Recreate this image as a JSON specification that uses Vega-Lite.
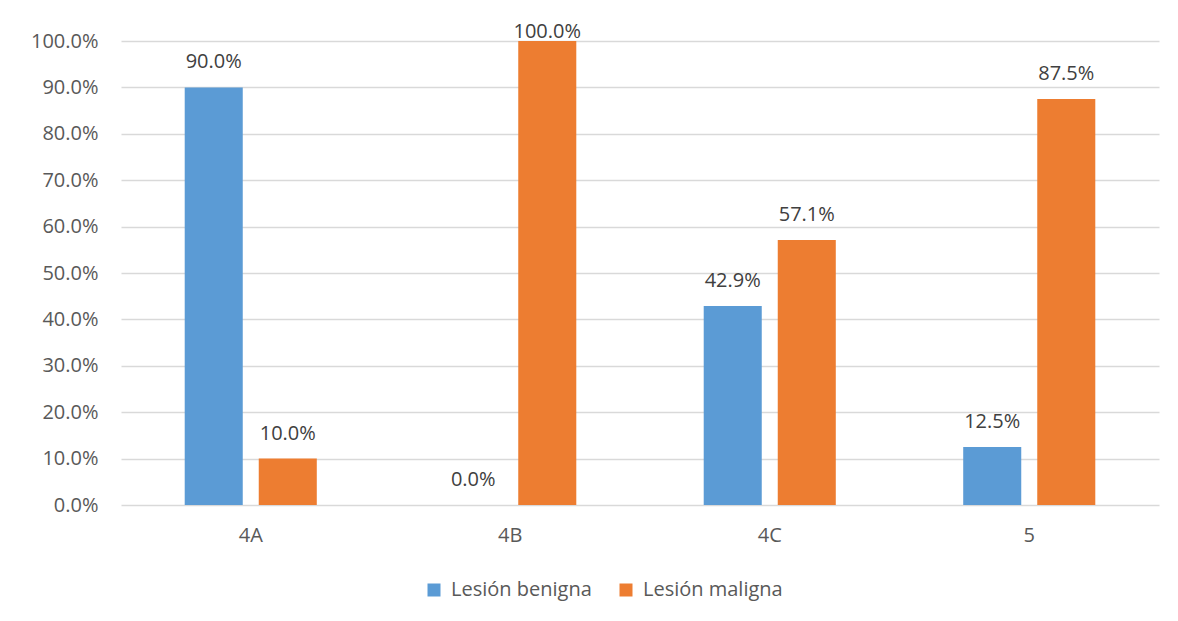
{
  "$schema": "https://vega.github.io/schema/vega-lite/v6.json",
  "width": 1038,
  "height": 464,
  "autosize": {"type": "none"},
  "padding": {"left": 121, "top": 41, "right": 19, "bottom": 116},
  "background": "white",
  "config": {
    "view": {"stroke": null},
    "font": "Open Sans",
    "axis": {"labelFont": "Open Sans", "labelColor": "#595959", "labelFontSize": 20},
    "legend": {"labelFont": "Open Sans", "labelColor": "#595959", "labelFontSize": 20}
  },
  "data": {
    "values": [
      {"categoria": "4A", "serie": "Lesión benigna", "valor": 0.9},
      {"categoria": "4A", "serie": "Lesión maligna", "valor": 0.1},
      {"categoria": "4B", "serie": "Lesión benigna", "valor": 0.0},
      {"categoria": "4B", "serie": "Lesión maligna", "valor": 1.0},
      {"categoria": "4C", "serie": "Lesión benigna", "valor": 0.429},
      {"categoria": "4C", "serie": "Lesión maligna", "valor": 0.571},
      {"categoria": "5", "serie": "Lesión benigna", "valor": 0.125},
      {"categoria": "5", "serie": "Lesión maligna", "valor": 0.875}
    ]
  },
  "encoding": {
    "x": {
      "field": "categoria", "type": "nominal", "sort": ["4A", "4B", "4C", "5"],
      "scale": {"paddingInner": 0.491, "paddingOuter": 0.2455},
      "axis": {"title": null, "labelAngle": 0, "ticks": false, "domain": false, "labelPadding": 20, "grid": false}
    },
    "xOffset": {
      "field": "serie", "type": "nominal",
      "scale": {"paddingInner": 0.216, "paddingOuter": 0}
    },
    "y": {
      "field": "valor", "type": "quantitative",
      "scale": {"domain": [0, 1], "nice": false},
      "axis": {
        "title": null, "format": ".1%", "values": [0, 0.1, 0.2, 0.3, 0.4, 0.5, 0.6, 0.7, 0.8, 0.9, 1.0],
        "ticks": false, "domain": false, "labelPadding": 23, "grid": true, "gridColor": "#d9d9d9", "gridWidth": 1.5
      }
    }
  },
  "layer": [
    {
      "mark": {"type": "bar"},
      "encoding": {
        "color": {
          "field": "serie", "type": "nominal",
          "scale": {"domain": ["Lesión benigna", "Lesión maligna"], "range": ["#5B9BD5", "#ED7D31"]},
          "legend": {
            "title": null, "orient": "none", "direction": "horizontal",
            "legendX": 303, "legendY": 539, "symbolType": "square", "symbolSize": 169,
            "symbolStrokeWidth": 0, "labelOffset": 7, "columnPadding": 24, "padding": 0
          }
        }
      }
    },
    {
      "transform": [{"filter": "datum.valor < 1"}],
      "mark": {"type": "text", "baseline": "bottom", "dy": -15, "fontSize": 20, "color": "#404040", "font": "Open Sans"},
      "encoding": {
        "text": {"field": "valor", "type": "quantitative", "format": ".1%"}
      }
    },
    {
      "transform": [{"filter": "datum.valor >= 1"}],
      "mark": {"type": "text", "baseline": "bottom", "dy": 1, "fontSize": 20, "color": "#404040", "font": "Open Sans"},
      "encoding": {
        "text": {"field": "valor", "type": "quantitative", "format": ".1%"}
      }
    }
  ]
}
